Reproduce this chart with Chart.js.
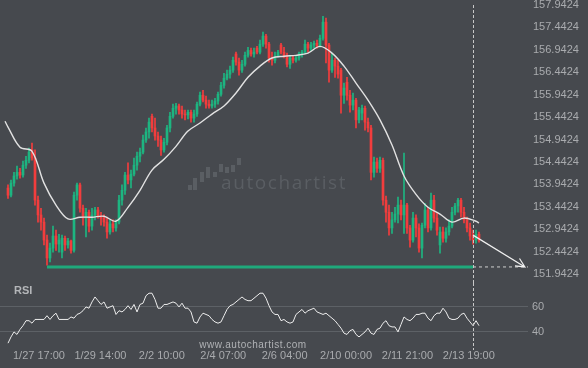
<!DOCTYPE html>
<html>
<head>
<meta charset="utf-8">
<script src="https://cdn.jsdelivr.net/npm/chart.js@4.4.1/dist/chart.umd.min.js"></script>
<style>
  html, body { margin: 0; padding: 0; background: #46494e; }
  #wrap { position: relative; width: 588px; height: 368px; background: #46494e; }
  #main { position: absolute; left: 0; top: 0; }
  #rsi { position: absolute; left: 0; top: 283px; }
</style>
</head>
<body>
<div id="wrap">
  <canvas id="main" width="588" height="283"></canvas>
  <canvas id="rsi" width="588" height="85"></canvas>
</div>
<script>
// candles, one per slot (index 0 = first bar on the left)
const opens = [153.86,153.70,153.97,154.13,154.21,154.15,154.37,154.48,154.71,154.53,
  153.59,153.26,153.10,152.70,152.30,152.52,152.79,152.61,152.43,152.74,
  152.59,152.68,152.47,153.70,153.93,153.41,153.19,153.32,153.01,153.26,
  153.37,153.23,153.19,153.10,152.88,153.06,152.97,153.10,153.59,153.81,
  154.15,154.04,154.17,154.37,154.57,154.66,154.93,155.11,155.46,155.20,
  155.02,154.93,154.71,154.88,155.20,155.46,155.64,155.69,155.60,155.51,
  155.49,155.55,155.42,155.51,155.73,155.93,155.82,155.73,155.69,155.73,
  155.80,155.95,156.15,156.31,156.40,156.49,156.85,156.67,156.49,156.62,
  156.82,156.93,156.85,156.98,156.89,157.07,157.25,157.07,156.76,156.71,
  156.80,157.05,156.89,156.80,156.62,156.76,156.71,156.76,156.85,156.89,
  157.07,156.98,157.05,157.09,157.02,157.20,157.56,157.05,156.49,156.71,
  156.58,156.49,155.93,156.22,155.93,155.71,155.82,155.38,155.53,155.64,
  155.33,155.20,154.21,154.44,154.30,154.48,153.59,153.32,152.97,153.15,
  153.28,153.48,153.26,153.48,152.97,152.70,153.19,152.97,152.52,153.03,
  153.37,152.97,153.59,153.19,152.59,152.88,152.74,152.88,153.01,153.32,
  153.46,153.59,153.32,153.15,152.97,152.79,152.70,152.83];
const closes = [153.70,153.97,154.13,154.21,154.15,154.37,154.48,154.66,154.53,153.59,
  153.26,153.10,152.70,152.30,152.52,152.79,152.61,152.70,152.74,152.59,
  152.68,152.47,153.70,153.93,153.41,153.19,153.32,153.01,153.26,153.37,
  153.23,153.19,153.10,152.88,153.06,152.97,153.10,153.59,153.81,154.15,
  154.04,154.17,154.37,154.57,154.66,154.93,155.11,155.33,155.20,155.02,
  154.93,154.71,154.88,155.20,155.46,155.64,155.69,155.60,155.51,155.49,
  155.55,155.42,155.51,155.73,155.93,155.82,155.73,155.69,155.73,155.80,
  155.95,156.15,156.31,156.40,156.49,156.71,156.67,156.49,156.62,156.82,
  156.93,156.85,156.89,156.89,157.07,157.25,157.07,156.76,156.71,156.80,
  156.89,156.89,156.80,156.62,156.76,156.71,156.76,156.85,156.89,157.07,
  156.98,157.05,157.09,157.02,157.20,157.56,157.05,156.49,156.71,156.58,
  156.40,155.93,156.09,155.93,155.71,155.82,155.38,155.60,155.64,155.33,
  155.20,154.21,154.44,154.30,154.48,153.59,153.32,152.97,153.15,153.28,
  153.48,153.26,153.48,152.97,152.70,153.19,152.97,152.52,153.03,153.37,
  152.97,153.59,153.19,152.92,152.88,152.74,152.88,153.01,153.32,153.46,
  153.59,153.32,153.15,152.97,152.79,152.70,152.83,152.70];
const highs = [153.93,154.04,154.21,154.35,154.30,154.46,154.57,154.75,154.86,154.71,
  153.68,153.41,153.19,152.81,152.63,153.01,152.92,152.83,152.81,152.79,
  152.74,152.70,153.77,153.97,153.97,153.48,153.41,153.37,153.41,153.43,
  153.43,153.32,153.26,153.21,153.15,153.15,153.15,153.70,153.93,154.21,
  154.42,154.26,154.53,154.66,154.75,155.04,155.20,155.42,155.51,155.42,
  155.11,155.02,154.97,155.26,155.55,155.73,155.75,155.73,155.69,155.60,
  155.60,155.60,155.60,155.78,156.00,156.04,155.91,155.82,155.82,155.86,
  156.00,156.22,156.42,156.49,156.58,156.78,156.89,156.76,156.71,156.89,
  157.00,156.98,156.98,157.02,157.16,157.34,157.29,157.11,156.89,156.89,
  156.93,157.09,157.00,156.87,156.82,156.80,156.80,156.89,156.93,157.16,
  157.11,157.11,157.14,157.16,157.27,157.69,157.65,157.09,156.87,156.76,
  156.71,156.53,156.20,156.33,156.04,155.98,155.86,155.66,155.71,155.69,
  155.42,155.26,154.55,154.53,154.55,154.53,153.68,153.48,153.32,153.43,
  153.66,153.59,154.64,153.52,153.03,153.32,153.26,153.06,153.08,153.52,
  153.43,153.75,153.70,153.32,152.99,152.99,152.97,153.15,153.43,153.52,
  153.63,153.63,153.43,153.21,153.08,152.92,152.92,152.88];
const lows = [153.63,153.66,153.90,154.06,154.08,154.10,154.30,154.42,154.48,153.48,
  153.10,152.92,152.59,152.14,152.21,152.43,152.47,152.43,152.30,152.47,
  152.52,152.41,152.43,153.59,153.32,153.03,152.77,152.88,152.92,153.15,
  153.19,153.03,153.01,152.74,152.83,152.88,152.90,153.06,153.48,153.72,
  153.95,153.86,154.13,154.26,154.44,154.62,154.88,154.97,155.11,154.93,
  154.79,154.59,154.66,154.82,155.11,155.42,155.51,155.51,155.42,155.38,
  155.40,155.33,155.33,155.46,155.69,155.78,155.64,155.64,155.64,155.66,
  155.73,155.91,156.09,156.27,156.31,156.44,156.60,156.38,156.44,156.58,
  156.78,156.80,156.78,156.85,156.85,157.02,156.98,156.67,156.60,156.65,
  156.78,156.85,156.76,156.56,156.53,156.65,156.67,156.71,156.78,156.85,
  156.89,156.93,156.98,156.98,157.00,157.16,156.65,156.22,156.44,156.33,
  156.31,155.53,155.75,155.82,155.55,155.60,155.20,155.31,155.38,155.15,
  155.11,154.04,154.10,154.21,154.21,153.48,153.10,152.81,152.85,153.10,
  153.08,153.15,152.85,152.85,152.54,152.65,152.77,152.43,152.30,152.97,
  152.88,152.92,153.10,152.81,152.41,152.65,152.65,152.81,152.97,153.26,
  153.32,153.21,153.08,152.88,152.70,152.61,152.63,152.65];

// moving average, read at every 4th bar
const maIndex = [-1,0,4,8,12,16,20,24,28,32,36,40,44,48,52,56,60,64,68,72,76,80,84,88,92,96,
  100,104,108,112,116,120,124,128,132,136,140,144,148,152,156,157];
const maValues = [155.35,155.22,154.77,154.68,153.97,153.48,153.17,153.21,153.21,153.23,153.12,
  153.43,153.81,154.26,154.50,154.79,155.13,155.31,155.51,155.69,155.98,156.33,156.58,156.76,
  156.80,156.82,156.87,157.02,156.87,156.58,156.20,155.82,155.38,154.82,154.13,153.72,153.43,
  153.28,153.10,153.19,153.12,153.08];

const rsiValues = [31,36,40,38,42,45,49,49,47,50,
  50,50,50,53,50,53,55,50,50,50,
  50,52,51,54,55,57,60,59,64,68,
  65,62,64,59,60,61,54,57,56,58,
  61,58,62,56,62,63,69,71,71,66,
  59,59,62,62,63,64,63,60,63,59,
  59,56,48,47,52,55,54,53,50,48,
  47,48,53,58,61,62,64,66,68,66,
  65,65,67,69,71,71,67,61,56,54,
  54,49,50,48,47,48,54,56,58,55,
  57,58,59,56,55,54,55,53,51,49,
  46,43,39,38,41,42,38,36,38,40,
  43,39,38,42,43,47,49,45,44,44,
  40,46,52,50,49,51,54,54,55,55,
  51,49,53,55,55,59,56,51,50,50,
  51,54,55,51,48,45,49,45];

const priceTicks = [157.9424,157.4424,156.9424,156.4424,155.9424,155.4424,154.9424,
  154.4424,153.9424,153.4424,152.9424,152.4424,151.9424];
const rsiTicks = [40, 60];
const xTickPos = [10.33, 30.8, 51.27, 71.74, 92.21, 112.68, 133.15, 153.62];
const xTickLabels = ['1/27 17:00','1/29 14:00','2/2 10:00','2/4 07:00','2/6 04:00',
  '2/10 00:00','2/11 21:00','2/13 19:00'];

const supportLevel = 152.10;
const supportFrom = 13;
const nowIndex = 155;
const projectionEnd = 174;
const arrowFromPrice = 152.81;
const arrowToIndex = 172.3;

const xMin = -2.667, xMax = 173.333;

const GREEN = '#1db581';
const RED = '#f23d3d';
const TICK = '#a9abae';
const FONT = '"Liberation Sans", Arial, sans-serif';

Chart.defaults.font.family = FONT;
Chart.defaults.font.size = 11;

const idx = closes.map((_, i) => i);
const candleColor = ctx => closes[ctx.dataIndex] >= opens[ctx.dataIndex] ? GREEN : RED;

function fixedAxis(width) {
  return function (scale) {
    if (width) scale.width = width;
    scale.paddingTop = 0; scale.paddingBottom = 0;
    scale.paddingLeft = 0; scale.paddingRight = 0;
  };
}

const mainOverlay = {
  id: 'mainOverlay',
  beforeDatasetsDraw(chart) {
    const c = chart.ctx;
    c.save();
    c.fillStyle = '#5a5e63';
    const bars = [[188,185,190],[193,178,190],[200,172,182],[206,167,178],[213,172,177],
      [219,164,172],[225,167,173],[231,165,172],[237,158,165]];
    bars.forEach(b => c.fillRect(b[0], b[1], 4, b[2] - b[1]));
    c.font = '19px "Open Sans", sans-serif';
    c.letterSpacing = '1.6px';
    c.textBaseline = 'middle';
    c.fillText('autochartist', 221, 184);
    c.restore();
  },
  afterDatasetsDraw(chart) {
    const c = chart.ctx, xs = chart.scales.x, ys = chart.scales.y;
    const nx = Math.round(xs.getPixelForValue(nowIndex)) + 0.5;
    c.save();
    c.strokeStyle = '#c8c8c8';
    c.lineWidth = 1;
    c.setLineDash([3, 2]);
    c.beginPath();
    c.moveTo(nx, 5);
    c.lineTo(nx, chart.height);
    c.stroke();
    c.setLineDash([]);
    const x1 = xs.getPixelForValue(nowIndex), y1 = ys.getPixelForValue(arrowFromPrice);
    const x2 = xs.getPixelForValue(arrowToIndex), y2 = ys.getPixelForValue(supportLevel);
    c.strokeStyle = '#f0f0f0';
    c.lineWidth = 1.2;
    c.beginPath();
    c.moveTo(x1, y1);
    c.lineTo(x2, y2);
    const a = Math.atan2(y2 - y1, x2 - x1);
    c.moveTo(x2 - 10 * Math.cos(a - 0.45), y2 - 10 * Math.sin(a - 0.45));
    c.lineTo(x2, y2);
    c.lineTo(x2 - 10 * Math.cos(a + 0.45), y2 - 10 * Math.sin(a + 0.45));
    c.stroke();
    c.restore();
  }
};

new Chart(document.getElementById('main'), {
  type: 'bar',
  data: {
    datasets: [
      {
        type: 'line', order: 0,
        data: maIndex.map((x, i) => ({ x, y: maValues[i] })),
        borderColor: '#e2e2e2', borderWidth: 1.4, pointRadius: 0, tension: 0.35
      },
      {
        type: 'line', order: 1,
        data: [{ x: supportFrom, y: supportLevel }, { x: nowIndex, y: supportLevel }],
        borderColor: '#1fa97b', borderWidth: 3, pointRadius: 0
      },
      {
        type: 'line', order: 1,
        data: [{ x: nowIndex, y: supportLevel }, { x: projectionEnd, y: supportLevel }],
        borderColor: '#cfcfcf', borderWidth: 1, borderDash: [3, 3], pointRadius: 0
      },
      {
        order: 2, grouped: false, barThickness: 2,
        data: idx.map(i => ({ x: i, y: [opens[i], closes[i]] })),
        backgroundColor: candleColor, borderWidth: 0
      },
      {
        order: 3, grouped: false, barThickness: 1,
        data: idx.map(i => ({ x: i, y: [lows[i], highs[i]] })),
        backgroundColor: candleColor, borderWidth: 0
      }
    ]
  },
  options: {
    responsive: false,
    animation: false,
    devicePixelRatio: 1,
    layout: { padding: 0 },
    plugins: { legend: { display: false }, tooltip: { enabled: false } },
    scales: {
      x: { type: 'linear', min: xMin, max: xMax, offset: false, display: false },
      y: {
        position: 'right', min: 151.742, max: 158.054,
        grid: { display: false, drawTicks: false },
        border: { display: false },
        afterBuildTicks: s => { s.ticks = priceTicks.map(v => ({ value: v })); },
        afterFit: fixedAxis(60),
        ticks: { color: TICK, padding: 5, callback: v => v.toFixed(4) }
      }
    }
  },
  plugins: [mainOverlay]
});

const rsiOverlay = {
  id: 'rsiOverlay',
  afterDatasetsDraw(chart) {
    const c = chart.ctx, xs = chart.scales.x;
    const nx = Math.round(xs.getPixelForValue(nowIndex)) + 0.5;
    c.save();
    c.strokeStyle = '#c8c8c8';
    c.lineWidth = 1;
    c.setLineDash([3, 2]);
    c.beginPath();
    c.moveTo(nx, 0);
    c.lineTo(nx, 67);
    c.stroke();
    c.fillStyle = '#b4b6b9';
    c.font = 'bold 11px ' + FONT;
    c.textBaseline = 'middle';
    c.fillText('RSI', 14, 8);
    c.fillStyle = '#b0b2b5';
    c.font = '10px ' + FONT;
    c.letterSpacing = '0.5px';
    c.textAlign = 'center';
    c.fillText('www.autochartist.com', 253, 62);
    c.restore();
  }
};

new Chart(document.getElementById('rsi'), {
  type: 'line',
  data: {
    datasets: [{
      data: idx.map(i => ({ x: i, y: rsiValues[i] })),
      borderColor: '#ededed', borderWidth: 1, pointRadius: 0, tension: 0
    }]
  },
  options: {
    responsive: false,
    animation: false,
    devicePixelRatio: 1,
    layout: { padding: { bottom: 2 } },
    plugins: { legend: { display: false }, tooltip: { enabled: false } },
    scales: {
      x: {
        type: 'linear', min: xMin, max: xMax, offset: false,
        grid: { display: false, drawTicks: false },
        border: { display: false },
        afterBuildTicks: s => { s.ticks = xTickPos.map(v => ({ value: v })); },
        afterFit: fixedAxis(0),
        ticks: { color: TICK, padding: 3, maxRotation: 0, autoSkip: false,
          callback: (v, i) => xTickLabels[i] }
      },
      y: {
        position: 'right', min: 28.1, max: 79.17,
        grid: { color: '#5d6166', lineWidth: 1, drawTicks: false },
        border: { display: false },
        afterBuildTicks: s => { s.ticks = rsiTicks.map(v => ({ value: v })); },
        afterFit: fixedAxis(60),
        ticks: { color: TICK, padding: 4 }
      }
    }
  },
  plugins: [rsiOverlay]
});
</script>
</body>
</html>
